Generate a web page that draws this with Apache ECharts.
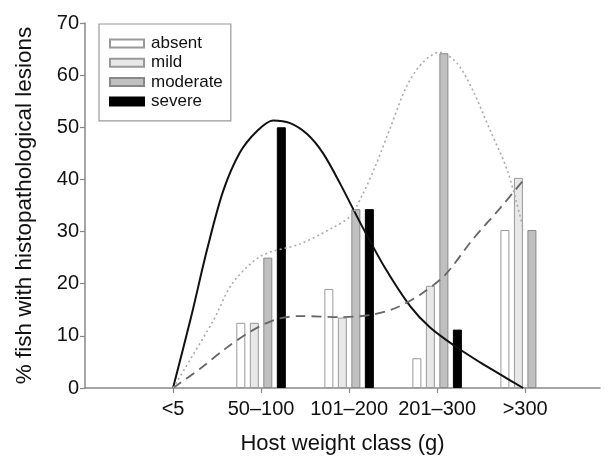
<!DOCTYPE html>
<html><head><meta charset="utf-8">
<script src="https://cdn.jsdelivr.net/npm/echarts@6/dist/echarts.min.js"></script>
<style>html,body{margin:0;padding:0;background:#fff}#c{width:616px;height:460px}</style>
</head><body><div id="c"></div><script>
// Host weight classes (class position 1..5 on the x axis)
const categories = ['<5', '50–100', '101–200', '201–300', '>300'];
// % fish per lesion grade
const absent   = [0, 12.5, 19.0, 5.7, 30.3];
const mild     = [0, 12.5, 13.5, 19.6, 40.3];
const moderate = [0, 25.0, 34.3, 64.2, 30.3];
const severe   = [0, 50.0, 34.3, 11.2, 0];
const yTicks = [0, 10, 20, 30, 40, 50, 60, 70];
// fitted trend curves (x = class position, y = %)
const severeFitX = [1.0, 1.205, 1.386, 1.568, 1.761, 1.955, 2.136, 2.330, 2.523, 2.705, 2.898, 3.148, 3.409, 3.693, 3.920, 4.205, 4.489, 4.716, 4.977];
const severeFitY = [0, 13.6, 26.5, 37.7, 45.2, 49.3, 51.3, 50.8, 48.7, 45.0, 39.2, 31.0, 23.0, 15.7, 11.6, 8.0, 4.9, 2.6, 0];
const mildFitX = [1.0, 1.307, 1.591, 1.875, 2.159, 2.443, 2.898, 3.239, 3.523, 3.807, 4.091, 4.409, 4.716, 4.977];
const mildFitY = [0, 3.7, 7.5, 10.8, 13.1, 13.8, 13.6, 14.0, 15.3, 17.9, 21.7, 28.6, 34.5, 39.8];
const moderateFitX = [1.0, 1.45, 1.68, 2.01, 2.44, 2.82, 3.01, 3.15, 3.30, 3.47, 3.66, 3.84, 4.03, 4.23, 4.41, 4.60, 4.80, 4.98];
const moderateFitY = [0, 12.7, 20.2, 25.4, 27.6, 30.8, 32.9, 37.0, 42.6, 50.0, 58.1, 62.5, 64.4, 62.2, 56.9, 49.5, 41.6, 30.4];

const pos = categories.map((c, i) => i + 1);
const pairs = (xs, ys) => xs.map((x, i) => [x, ys[i]]);
// zero-height bars are not drawn in the original
const barData = vals => vals.map((v, i) => [pos[i], v === 0 ? null : v]);

const FONT = 'Liberation Sans';
const chart = echarts.init(document.getElementById('c'), null, {renderer: 'canvas'});
const barBase = {type: 'bar', barWidth: 9, barGap: '50%', z: 2};
chart.setOption({
  animation: false,
  backgroundColor: '#fff',
  grid: {left: 85, top: 23, right: 16, bottom: 62, containLabel: false},
  legend: {
    data: ['absent', 'mild', 'moderate', 'severe'],
    orient: 'vertical', left: 99, top: 24,
    itemWidth: 34, itemHeight: 8, itemGap: 2.3,
    padding: [11, 8, 11, 10],
    borderColor: '#999', borderWidth: 1.2,
    icon: 'rect',
    textStyle: {fontFamily: FONT, fontSize: 17, color: '#111', padding: [0, 0, 0, 2]}
  },
  xAxis: {
    type: 'value', min: 0, max: 5.85, interval: 1,
    name: 'Host weight class (g)', nameLocation: 'middle', nameGap: 45,
    nameTextStyle: {fontFamily: FONT, fontSize: 22, color: '#111', verticalAlign: 'top'},
    axisLine: {show: true, onZero: false, lineStyle: {color: '#888', width: 1.5}},
    axisTick: {show: true, length: 5, customValues: pos, lineStyle: {color: '#888', width: 1.2}},
    axisLabel: {customValues: pos, formatter: v => categories[Math.round(v) - 1] || '', fontFamily: FONT, fontSize: 20, color: '#111', margin: 11},
    splitLine: {show: false}
  },
  yAxis: {
    type: 'value', min: yTicks[0], max: yTicks[yTicks.length - 1], interval: 10,
    name: '% fish with histopathological lesions', nameLocation: 'middle', nameGap: 49,
    nameTextStyle: {fontFamily: FONT, fontSize: 22.5, color: '#111'},
    axisLine: {show: true, lineStyle: {color: '#888', width: 1.5}},
    axisTick: {show: true, length: 5, lineStyle: {color: '#888', width: 1.2}},
    axisLabel: {fontFamily: FONT, fontSize: 20, color: '#111', margin: 6},
    splitLine: {show: false}
  },
  series: [
    Object.assign({}, barBase, {name: 'absent', data: barData(absent), itemStyle: {color: '#fff', borderColor: '#999', borderWidth: 1}}),
    Object.assign({}, barBase, {name: 'mild', data: barData(mild), itemStyle: {color: '#e8e8e8', borderColor: '#999', borderWidth: 1}}),
    Object.assign({}, barBase, {name: 'moderate', data: barData(moderate), itemStyle: {color: '#c0c0c0', borderColor: '#888', borderWidth: 1}}),
    Object.assign({}, barBase, {name: 'severe', data: barData(severe), itemStyle: {color: '#000', borderColor: '#000', borderWidth: 1}}),
    {type: 'line', name: 'fit-severe', data: pairs(severeFitX, severeFitY), smooth: 0.3, showSymbol: false, z: 5,
     lineStyle: {color: '#111', width: 2}},
    {type: 'line', name: 'fit-mild', data: pairs(mildFitX, mildFitY), smooth: 0.3, showSymbol: false, z: 5,
     lineStyle: {color: '#666', width: 1.8, type: [10, 6]}},
    {type: 'line', name: 'fit-moderate', data: pairs(moderateFitX, moderateFitY), smooth: 0.3, showSymbol: false, z: 5,
     lineStyle: {color: '#aaa', width: 1.6, type: [2, 3]}}
  ]
});
</script></body></html>
